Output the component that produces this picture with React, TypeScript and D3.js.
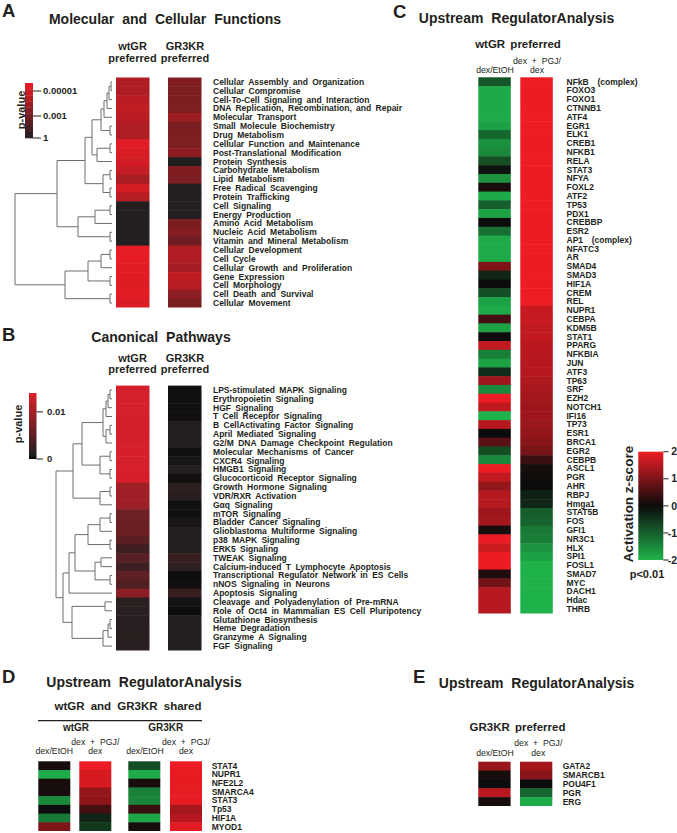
import React from "react";
import * as d3 from "d3";

const FONT = "'Liberation Sans', Arial, Helvetica, sans-serif";
const INK = "#231f20";
const TREE_STROKE = "#6d6e71";

// ---------------- Panel A data ----------------
const aCategories = [
  "Cellular Assembly and Organization", "Cellular Compromise", "Cell-To-Cell Signaling and Interaction",
  "DNA Replication, Recombination, and Repair", "Molecular Transport", "Small Molecule Biochemistry",
  "Drug Metabolism", "Cellular Function and Maintenance", "Post-Translational Modification",
  "Protein Synthesis", "Carbohydrate Metabolism", "Lipid Metabolism", "Free Radical Scavenging",
  "Protein Trafficking", "Cell Signaling", "Energy Production", "Amino Acid Metabolism",
  "Nucleic Acid Metabolism", "Vitamin and Mineral Metabolism", "Cellular Development", "Cell Cycle",
  "Cellular Growth and Proliferation", "Gene Expression", "Cell Morphology", "Cell Death and Survival",
  "Cellular Movement",
];
// -log10(p)
const aWtGR = [4.35, 4.25, 4.5, 4.65, 4.5, 4.3, 4.3, 5.3, 5.15, 5.05, 4.75, 4.1, 5.05, 4.45, 0, 0, 0, 0, 0, 5.4, 5.4, 5.3, 5.3, 5.25, 5.35, 5.2];
const aGR3KR = [3.31, 3.13, 3.2, 3.2, 3.88, 3.15, 3.25, 3.2, 3.5, 0, 3.25, 3.2, 0, 0, 0, 0, 3.13, 3.31, 2.8, 4.35, 4.35, 4.1, 4.65, 4.4, 3.55, 3.15];
// dendrogram: [linkage distance, ...children]; numbers are row indices
const aTree: any = [97,
  [55,
    [27,
      [20,
        [11, [8, [5, [3, [1, 0, 1], 2], 3], 4], [2, 5, 6]],
        [15, [2, 7, 8], 9]],
      [9, [2, 10, 11], [2, 12, 13]]],
    [34, [17, [2, 14, 15], 16], [2, 17, 18]]],
  [47,
    [24, [11, [2, 19, 20], 21], [2, 22, 23]],
    [2, 24, 25]]];
const aLegendTicks = [{ v: 5, label: "0.00001" }, { v: 3, label: "0.001" }, { v: 0, label: "1" }];

// ---------------- Panel B data ----------------
const bCategories = [
  "LPS-stimulated MAPK Signaling", "Erythropoietin Signaling", "HGF Signaling", "T Cell Receptor Signaling",
  "B CellActivating Factor Signaling", "April Mediated Signaling", "G2/M DNA Damage Checkpoint Regulation",
  "Molecular Mechanisms of Cancer", "CXCR4 Signaling", "HMGB1 Signaling", "Glucocorticoid Receptor Signaling",
  "Growth Hormone Signaling", "VDR/RXR Activation", "G\u03b1q Signaling", "mTOR Signaling",
  "Bladder Cancer Signaling", "Glioblastoma Multiforme Signaling", "p38 MAPK Signaling", "ERK5 Signaling",
  "TWEAK Signaling", "Calcium-induced T Lymphocyte Apoptosis", "Transcriptional Regulator Network in ES Cells",
  "nNOS Signaling in Neurons", "Apoptosis Signaling", "Cleavage and Polyadenylation of Pre-mRNA",
  "Role of Oct4 in Mammalian ES Cell Pluripotency", "Glutathione Biosynthesis", "Heme Degradation",
  "Granzyme A Signaling", "FGF Signaling",
];
const bWtGR = [0.0135, 0.0135, 0.0135, 0.0133, 0.0133, 0.0135, 0.0135, 0.0136, 0.0136, 0.0136, 0.0136,
  0.0098, 0.0098, 0.0096, 0.0063, 0.006, 0.0063, 0.0049, 0.0028, 0.0049, 0.003, 0.0052, 0.0042, 0.0084,
  0.0015, 0.0015, 0.0015, 0.0015, 0.0015, 0.0015];
const bGR3KR = [0.0004, 0.0004, 0.0004, 0.0004, 0.001, 0.001, 0.001, 0.0004, 0.0006, 0.001, 0.0004,
  0.0018, 0.0015, 0.0004, 0.0004, 0.0006, 0.001, 0.001, 0.001, 0.0026, 0.0018, 0.0003, 0.0004, 0.0024,
  0.0005, 0.0003, 0.001, 0.001, 0.001, 0.001];
const bTree: any = [56,
  [39,
    [30,
      [9, [6, [4, [2, 0, 1], 2], 3], [6, [2, 4, 5], 6]],
      [12, [2, 7, 8], [2, 9, 10]]],
    [12, [2, 11, 12], 13]],
  [49,
    [43,
      [37,
        [24, [12, [2, 14, 15], 16], [2, 17, 18]],
        [17, [11, 19, 20], [2, 21, 22]]],
      23],
    [40, [7, 24, 25], [9, [4, [2, 26, 27], 28], 29]]]];
const bLegendTicks = [{ v: 0.01, label: "0.01" }, { v: 0, label: "0" }];

// ---------------- Panel C data ----------------
const cCategories = [
  "NFkB  (complex)", "FOXO3", "FOXO1", "CTNNB1", "ATF4", "EGR1", "ELK1", "CREB1", "NFKB1", "RELA", "STAT3",
  "NFYA", "FOXL2", "ATF2", "TP53", "PDX1", "CREBBP", "ESR2", "AP1  (complex)", "NFATC3", "AR", "SMAD4",
  "SMAD3", "HIF1A", "CREM", "REL", "NUPR1", "CEBPA", "KDM5B", "STAT1", "PPARG", "NFKBIA", "JUN", "ATF3",
  "TP63", "SRF", "EZH2", "NOTCH1", "IFI16", "TP73", "ESR1", "BRCA1", "EGR2", "CEBPB", "ASCL1", "PGR", "AHR",
  "RBPJ", "Hmga1", "STAT5B", "FOS", "GFI1", "NR3C1", "HLX", "SPI1", "FOSL1", "SMAD7", "MYC", "DACH1",
  "Hdac", "THRB",
];
const cDexEtOH = [-0.9, -1.9, -1.9, -1.9, -1.9, -1.8, -1.1, -1.6, -1.5, -0.8, -0.1, -1.6, 0.1, -1.9, -1.0,
  -1.8, 0, -1.2, -1.9, -1.9, -1.9, 1.0, -0.3, 0, -0.8, -1.8, -1.9, 0.5, -1.8, 0, 1.6, -1.4, -1.8, -0.4, 1.3,
  -1.5, 2.0, 1.6, -2.0, 1.5, 0, 0.7, -0.8, -1.5, 2.0, 1.6, 1.2, 1.5, 1.5, 1.3, 1.35, 0.1, 2.0, 1.7, 2.0, 2.0,
  0.15, 0.9, 1.5, 1.5, 1.5];
const cPGJDex = [2, 2, 2, 2, 2, 2, 2, 2, 2, 2, 2, 2, 2, 2, 2, 2, 2, 2, 2, 2, 2, 2, 2, 2, 2, 2,
  1.65, 1.65, 1.6, 1.6, 1.55, 1.55, 1.5, 1.5, 1.45, 1.4, 1.35, 1.3, 1.3, 1.25, 1.2, 1.1, 0.95, 0.4, 0.1,
  0.05, 0, -0.25, -0.3, -1.0, -1.05, -1.3, -1.35, -1.65, -1.8, -2, -2, -2, -2, -2, -2];
const zTicks = [2, 1, 0, -1, -2];

// ---------------- Panel D data ----------------
const dCategories = ["STAT4", "NUPR1", "NFE2L2", "SMARCA4", "STAT3", "Tp53", "HIF1A", "MYOD1"];
const dWtDexEtOH = [0.1, -1.9, 0.1, 0.1, -1.5, 0, -1.3, 1.0];
const dWtPGJDex = [2.0, 1.8, 1.8, 1.2, 1.15, 0.5, -0.3, -0.55];
const dKrDexEtOH = [-0.8, -1.9, 0.1, -1.4, -1.45, 0.4, -1.85, 0.1];
const dKrPGJDex = [2.0, 1.95, 1.95, 1.95, 1.95, 1.35, 1.5, 1.9];

// ---------------- Panel E data ----------------
const eCategories = ["GATA2", "SMARCB1", "POU4F1", "PGR", "ERG"];
const eDexEtOH = [1.25, 0.1, 0, 1.55, 0.1];
const ePGJDex = [1.35, 1.1, 0, -1.1, -1.9];

// ---------------- colour scales ----------------
const aInterp = d3.interpolateRgb("#231f20", "#ed1c24");
const aT = d3.scaleLinear().domain([0, 3, 5, 5.5]).range([0, 0.4, 0.855, 1]).clamp(true);
const aColor = (v: number) => aInterp(aT(v));
const aLegendY = d3.scaleLinear().domain([0, 3, 5, 5.5]).range([138, 116, 91, 83]);

const bColor = d3.scaleLinear<string>().domain([0, 0.001, 0.014]).range(["#050505", "#231f20", "#dc1f2a"]).interpolate(d3.interpolateRgb).clamp(true);
const bLegendY = d3.scaleLinear().domain([0, 0.014]).range([459, 393]);

const zColor = d3.scaleLinear<string>().domain([-2, 0, 2]).range(["#1fb24b", "#0c0c0c", "#ed1c24"]).interpolate(d3.interpolateRgb).clamp(true);
const zLegendY = d3.scaleLinear().domain([-2, 2]).range([560, 451.7]);

// ---------------- helpers ----------------
function Heatmap(props: {
  cats: string[]; series: number[][]; colX: number[]; colW: number; y0: number; y1: number;
  color: (v: number) => string; labelX: number;
}) {
  const { cats, series, colX, colW, y0, y1, color, labelX } = props;
  const y = d3.scaleBand<string>().domain(cats).range([y0, y1]).padding(0);
  const bw = y.bandwidth();
  return (
    <g>
      {series.map((vals, ci) =>
        vals.map((v, ri) => (
          <rect key={`${ci}-${ri}`} x={colX[ci]} y={y(cats[ri])!} width={colW}
            height={ri === vals.length - 1 ? bw : bw + 0.5} fill={color(v)} />
        ))
      )}
      {cats.map((c) => (
        <text key={c} x={labelX} y={y(c)! + bw / 2} dy="0.35em" fontSize={8.5} fontWeight="bold"
          fill={INK} style={{ wordSpacing: "2px", whiteSpace: "pre" }}>{c}</text>
      ))}
    </g>
  );
}

function Dendrogram(props: { tree: any; cats: string[]; y0: number; y1: number; leafX: number }) {
  const { tree, cats, y0, y1, leafX } = props;
  const y = d3.scaleBand<string>().domain(cats).range([y0, y1]);
  const xOf = d3.scaleLinear().domain([0, 100]).range([leafX, leafX - 100]);
  const root: any = d3.hierarchy(tree, (d: any) => (Array.isArray(d) ? d.slice(1) : null));
  root.eachAfter((n: any) => {
    if (!n.children) {
      n.py = y(cats[n.data])! + y.bandwidth() / 2;
      n.px = xOf(0);
    } else {
      n.py = (n.children[0].py + n.children[n.children.length - 1].py) / 2;
      n.px = xOf(n.data[0]);
    }
  });
  const segs: string[] = [];
  root.each((n: any) => {
    if (n.children) {
      segs.push(`M${n.px},${n.children[0].py}V${n.children[n.children.length - 1].py}`);
      n.children.forEach((c: any) => segs.push(`M${n.px},${c.py}H${c.px}`));
    }
  });
  return <path d={segs.join("")} fill="none" stroke={TREE_STROKE} strokeWidth={1} />;
}

const T = (p: any) => <text fill={INK} fontFamily={FONT} {...p} />;

export default function App() {
  // A legend bands
  const aBands = d3.range(9);
  const aTop = 83, aBot = 138, aBandH = (aBot - aTop) / 9;
  const bStops = [0, 0.001, 0.004, 0.008, 0.011, 0.014];
  const zStops = [...zTicks].sort(d3.ascending);

  return (
    <svg width={677} height={833} viewBox="0 0 677 833"
      style={{ position: "absolute", left: 0, top: 0, background: "#fff" }} fontFamily={FONT}>
      <defs>
        <linearGradient id="bgrad" x1="0" y1="1" x2="0" y2="0">
          {bStops.map((v) => <stop key={v} offset={v / 0.014} stopColor={bColor(v)} />)}
        </linearGradient>
        <linearGradient id="zgrad" x1="0" y1="1" x2="0" y2="0">
          {zStops.map((v) => <stop key={v} offset={(v + 2) / 4} stopColor={zColor(v)} />)}
        </linearGradient>
      </defs>
      <rect width={677} height={833} fill="#fff" />

      {/* ---------- Panel A ---------- */}
      <T x={2} y={17} fontSize={18.5} fontWeight="bold">A</T>
      <T x={165} y={24} fontSize={14} fontWeight="bold" textAnchor="middle" style={{ wordSpacing: "4px" }}>Molecular and Cellular Functions</T>
      <T x={132.5} y={50} fontSize={11} fontWeight="bold" textAnchor="middle">wtGR</T>
      <T x={132.5} y={61.7} fontSize={11} fontWeight="bold" textAnchor="middle">preferred</T>
      <T x={185} y={50} fontSize={11} fontWeight="bold" textAnchor="middle">GR3KR</T>
      <T x={185} y={61.7} fontSize={11} fontWeight="bold" textAnchor="middle">preferred</T>
      {aBands.map((k) => {
        const yy = aTop + k * aBandH;
        const v = aLegendY.invert(yy + aBandH / 2);
        return <rect key={k} x={25} y={yy} width={8} height={aBandH + 0.3} fill={aColor(v)} />;
      })}
      {aLegendTicks.map((t) => (
        <g key={t.label}>
          <line x1={33} x2={41} y1={aLegendY(t.v)} y2={aLegendY(t.v)} stroke={INK} strokeWidth={1} />
          <T x={43} y={aLegendY(t.v)} dy="0.35em" fontSize={9.5} fontWeight="bold">{t.label}</T>
        </g>
      ))}
      <T transform="translate(25,110) rotate(-90)" fontSize={11} fontWeight="bold" textAnchor="middle">p-value</T>
      <Dendrogram tree={aTree} cats={aCategories} y0={77.5} y1={307.5} leafX={112} />
      <Heatmap cats={aCategories} series={[aWtGR, aGR3KR]} colX={[116, 168]} colW={33.5}
        y0={77.5} y1={307.5} color={aColor} labelX={213} />

      {/* ---------- Panel B ---------- */}
      <T x={2} y={341} fontSize={18.5} fontWeight="bold">B</T>
      <T x={161} y={341.7} fontSize={14} fontWeight="bold" textAnchor="middle" style={{ wordSpacing: "4px" }}>Canonical Pathways</T>
      <T x={132.5} y={361.7} fontSize={11} fontWeight="bold" textAnchor="middle">wtGR</T>
      <T x={132.5} y={373} fontSize={11} fontWeight="bold" textAnchor="middle">preferred</T>
      <T x={185} y={361.7} fontSize={11} fontWeight="bold" textAnchor="middle">GR3KR</T>
      <T x={185} y={373} fontSize={11} fontWeight="bold" textAnchor="middle">preferred</T>
      <rect x={29} y={393} width={7.5} height={66} fill="url(#bgrad)" />
      {bLegendTicks.map((t) => (
        <g key={t.label}>
          <line x1={36.5} x2={43} y1={bLegendY(t.v)} y2={bLegendY(t.v)} stroke={INK} strokeWidth={1} />
          <T x={47} y={bLegendY(t.v)} dy="0.35em" fontSize={9.5} fontWeight="bold">{t.label}</T>
        </g>
      ))}
      <T transform="translate(22,424) rotate(-90)" fontSize={11} fontWeight="bold" textAnchor="middle">p-value</T>
      <Dendrogram tree={bTree} cats={bCategories} y0={385.6} y1={650.5} leafX={112} />
      <Heatmap cats={bCategories} series={[bWtGR, bGR3KR]} colX={[116, 168]} colW={33.5}
        y0={385.6} y1={650.5} color={bColor} labelX={213} />

      {/* ---------- Panel C ---------- */}
      <T x={393} y={18} fontSize={18.5} fontWeight="bold">C</T>
      <T x={516.5} y={23.3} fontSize={14} fontWeight="bold" textAnchor="middle" style={{ wordSpacing: "4px" }}>Upstream RegulatorAnalysis</T>
      <T x={518} y={48.3} fontSize={11.5} fontWeight="bold" textAnchor="middle" style={{ wordSpacing: "2px" }}>wtGR preferred</T>
      <T x={537} y={64} fontSize={8.7} textAnchor="middle" style={{ wordSpacing: "2.4px" }}>dex + PGJ/</T>
      <T x={495} y={72.7} fontSize={8.7} textAnchor="middle">dex/EtOH</T>
      <T x={537} y={72.7} fontSize={8.7} textAnchor="middle">dex</T>
      <Heatmap cats={cCategories} series={[cDexEtOH, cPGJDex]} colX={[478.3, 520.3]} colW={32.5}
        y0={77.3} y1={613.5} color={zColor} labelX={566.5} />
      <rect x={638.3} y={451.7} width={25} height={108.3} fill="url(#zgrad)" />
      {zTicks.map((t) => (
        <g key={t}>
          <line x1={663.3} x2={668.5} y1={zLegendY(t)} y2={zLegendY(t)} stroke={INK} strokeWidth={1} />
          <T x={677} y={zLegendY(t)} dy="0.35em" fontSize={10.5} fontWeight="bold" textAnchor="end">{String(t)}</T>
        </g>
      ))}
      <T transform="translate(632.5,504) rotate(-90)" fontSize={13.5} fontWeight="bold" textAnchor="middle">Activation z-score</T>
      <T x={647} y={577.5} fontSize={11} fontWeight="bold" textAnchor="middle">p&lt;0.01</T>

      {/* ---------- Panel D ---------- */}
      <T x={2} y={683} fontSize={18.5} fontWeight="bold">D</T>
      <T x={144} y={687.3} fontSize={14} fontWeight="bold" textAnchor="middle" style={{ wordSpacing: "4px" }}>Upstream RegulatorAnalysis</T>
      <T x={128} y={710} fontSize={11.5} fontWeight="bold" textAnchor="middle" style={{ wordSpacing: "3px" }}>wtGR and GR3KR shared</T>
      <line x1={38} x2={202} y1={720.7} y2={720.7} stroke={INK} strokeWidth={1.3} />
      <T x={76} y={730.7} fontSize={10} fontWeight="bold" textAnchor="middle">wtGR</T>
      <T x={165.7} y={730.7} fontSize={10} fontWeight="bold" textAnchor="middle">GR3KR</T>
      <T x={95.3} y={745} fontSize={8.7} textAnchor="middle" style={{ wordSpacing: "2.4px" }}>dex + PGJ/</T>
      <T x={54.3} y={754} fontSize={8.7} textAnchor="middle">dex/EtOH</T>
      <T x={95.3} y={754} fontSize={8.7} textAnchor="middle">dex</T>
      <T x={186} y={745} fontSize={8.7} textAnchor="middle" style={{ wordSpacing: "2.4px" }}>dex + PGJ/</T>
      <T x={145} y={754} fontSize={8.7} textAnchor="middle">dex/EtOH</T>
      <T x={186} y={754} fontSize={8.7} textAnchor="middle">dex</T>
      <Heatmap cats={dCategories} series={[dWtDexEtOH, dWtPGJDex, dKrDexEtOH, dKrPGJDex]}
        colX={[38.3, 79.3, 128.3, 170]} colW={32} y0={761.3} y1={831} color={zColor} labelX={211.7} />

      {/* ---------- Panel E ---------- */}
      <T x={413} y={683} fontSize={18.5} fontWeight="bold">E</T>
      <T x={536.5} y={688.3} fontSize={14} fontWeight="bold" textAnchor="middle" style={{ wordSpacing: "4px" }}>Upstream RegulatorAnalysis</T>
      <T x={517.5} y={731} fontSize={11.5} fontWeight="bold" textAnchor="middle" style={{ wordSpacing: "2px" }}>GR3KR preferred</T>
      <T x={538.3} y={746} fontSize={8.7} textAnchor="middle" style={{ wordSpacing: "2.4px" }}>dex + PGJ/</T>
      <T x={495} y={756} fontSize={8.7} textAnchor="middle">dex/EtOH</T>
      <T x={538.3} y={756} fontSize={8.7} textAnchor="middle">dex</T>
      <Heatmap cats={eCategories} series={[eDexEtOH, ePGJDex]} colX={[478.3, 520]} colW={32.3}
        y0={761.7} y1={806} color={zColor} labelX={562.7} />
    </svg>
  );
}
